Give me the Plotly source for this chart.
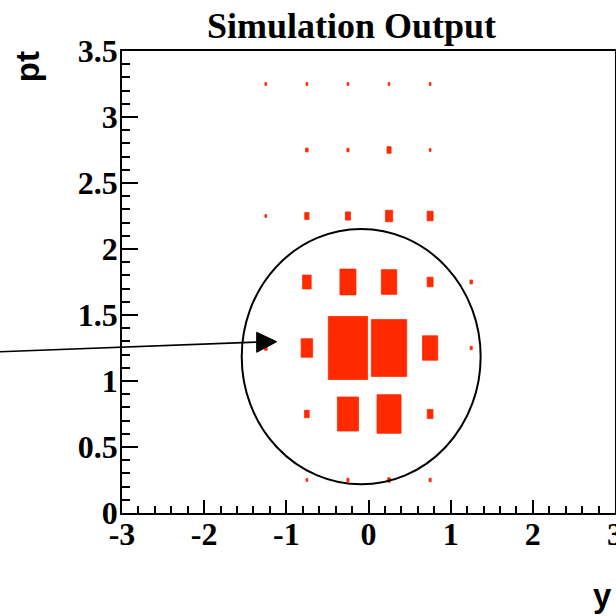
import math
import plotly.graph_objects as go

# Binning of the 2D histogram (rapidity y vs transverse momentum pt)
y_bin_centers = [-1.25, -0.75, -0.25, 0.25, 0.75, 1.25]
pt_bin_centers = [0.25, 0.75, 1.25, 1.75, 2.25, 2.75, 3.25]
bin_width_y = 0.5
bin_width_pt = 0.5

# Entries per cell, one list per pt row (columns follow y_bin_centers)
counts_pt_025 = [0, 2, 3, 5, 3, 0]
counts_pt_075 = [0, 14, 291, 375, 21, 0]
counts_pt_125 = [5, 86, 1000, 811, 150, 3]
counts_pt_175 = [0, 48, 167, 154, 23, 4]
counts_pt_225 = [2, 12, 17, 33, 23, 0]
counts_pt_275 = [0, 4, 3, 11, 2, 0]
counts_pt_325 = [2, 2, 2, 2, 2, 0]

x_tick_vals = [-3, -2, -1, 0, 1, 2, 3]
x_tick_text = ["-3", "-2", "-1", "0", "1", "2", "3"]
y_tick_vals = [0, 0.5, 1, 1.5, 2, 2.5, 3, 3.5]
y_tick_text = ["0", "0.5", "1", "1.5", "2", "2.5", "3", "3.5"]

counts = [counts_pt_025, counts_pt_075, counts_pt_125, counts_pt_175,
          counts_pt_225, counts_pt_275, counts_pt_325]

BOX_COLOR = "#ff2a00"
BOX_FILL = 0.955  # fraction of the cell covered by the fullest box
TICK_FONT = dict(family="Liberation Serif", size=32, color="black", weight="bold")
TITLE_FONT = dict(family="Liberation Serif", size=36, color="black", weight="bold")
AXIS_TITLE_FONT = dict(family="Liberation Sans", size=33, color="black", weight="bold")

# Box representation: side length grows with sqrt(content / max content)
cmax = max(max(row) for row in counts)
bx, by = [], []
for pt_c, row in zip(pt_bin_centers, counts):
    for y_c, c in zip(y_bin_centers, row):
        if c <= 0:
            continue
        frac = BOX_FILL * math.sqrt(c / cmax)
        hx = 0.5 * bin_width_y * frac
        hy = 0.5 * bin_width_pt * frac
        bx += [y_c - hx, y_c + hx, y_c + hx, y_c - hx, y_c - hx, None]
        by += [pt_c - hy, pt_c - hy, pt_c + hy, pt_c + hy, pt_c - hy, None]

fig = go.Figure()
fig.add_trace(go.Scatter(
    x=bx, y=by, mode="lines", fill="toself",
    fillcolor=BOX_COLOR, line=dict(color=BOX_COLOR, width=0.8),
    hoverinfo="skip", showlegend=False,
))

axis_common = dict(
    showgrid=False, zeroline=False, showline=True, linecolor="black",
    linewidth=1.5, mirror=True, ticks="inside", tickcolor="black",
    tickwidth=1.5, tickfont=TICK_FONT, ticklabeloverflow="allow",
)
fig.update_xaxes(
    range=[-3, 3], tickvals=x_tick_vals, ticktext=x_tick_text, ticklen=13,
    ticklabelstandoff=-8,
    minor=dict(dtick=0.2, ticks="inside", ticklen=7, tickcolor="black",
               tickwidth=1.5, showgrid=False),
    **axis_common,
)
fig.update_yaxes(
    range=[0, 3.5], tickvals=y_tick_vals, ticktext=y_tick_text, ticklen=16,
    ticklabelstandoff=-4,
    minor=dict(dtick=0.1, ticks="inside", ticklen=8, tickcolor="black",
               tickwidth=1.5, showgrid=False),
    **axis_common,
)

# Highlight ellipse around the central peak
fig.add_shape(type="circle", xref="x", yref="y",
              x0=-1.543, x1=1.365, y0=0.217, y1=2.152,
              line=dict(color="black", width=2))

# Pointer arrow coming in from the left edge
fig.add_shape(type="line", xref="paper", yref="paper",
              x0=-0.2475, y0=0.3491, x1=0.2759, y1=0.3701,
              line=dict(color="black", width=1.6))
fig.add_shape(type="path", xref="paper", yref="paper",
              path="M 0.2732 0.3911 L 0.3138 0.3708 L 0.2732 0.3478 Z",
              fillcolor="black", line=dict(color="black", width=1))

fig.add_annotation(text="Simulation Output", xref="paper", yref="paper",
                   x=0.4665, y=1.0, xanchor="center", yanchor="bottom",
                   yshift=3, showarrow=False, font=TITLE_FONT)
fig.add_annotation(text="pt", xref="paper", yref="paper",
                   x=-0.1925, y=0.965, textangle=-90,
                   xanchor="center", yanchor="middle",
                   showarrow=False, font=AXIS_TITLE_FONT)
fig.add_annotation(text="y", xref="paper", yref="paper",
                   x=1.0, y=-0.178, xanchor="right", yanchor="middle",
                   xshift=-1, showarrow=False, font=AXIS_TITLE_FONT)

fig.update_layout(
    width=616, height=616,
    margin=dict(l=122, r=1, t=51, b=103, autoexpand=False),
    paper_bgcolor="white", plot_bgcolor="white",
    showlegend=False,
)

fig.write_html("out.html")
